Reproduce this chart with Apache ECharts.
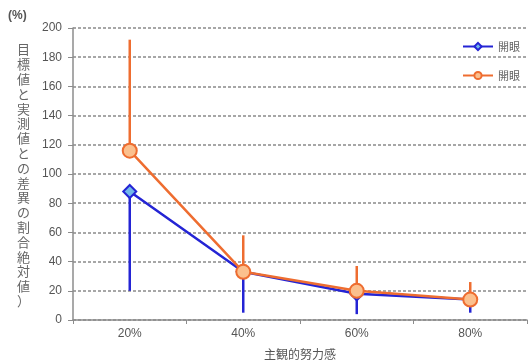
<!DOCTYPE html>
<html><head><meta charset="utf-8">
<script src="https://cdn.jsdelivr.net/npm/echarts@6/dist/echarts.min.js"></script>
<style>html,body{margin:0;padding:0;background:#fff}#c{width:528px;height:360px}</style>
</head><body><div id="c"></div>
<script>
var categories = ['20%', '40%', '60%', '80%'];
var blueValues = [88, 33, 18, 14];
var blueLower = [20, 5, 4, 5];
var orangeValues = [116, 33, 20, 14];
var orangeUpper = [192, 58, 37, 26];
var yTicks = [0, 20, 40, 60, 80, 100, 120, 140, 160, 180, 200];
var legendLabel = '開眼';
var yName = '目標値と実測値との差異の割合絶対値）';
var xName = '主観的努力感';

var BLUE = '#2424d4', BLUE_FILL = '#72b8ea';
var ORANGE = '#ee6d30', ORANGE_FILL = '#fbc08e';

function errBar(vals, bounds, color) {
  return {
    type: 'custom', silent: true, z: 1,
    data: vals.map(function (v, i) { return [i, v, bounds[i]]; }),
    renderItem: function (params, api) {
      var a = api.coord([api.value(0), api.value(1)]);
      var b = api.coord([api.value(0), api.value(2)]);
      return { type: 'line', shape: { x1: a[0], y1: a[1], x2: b[0], y2: b[1] },
        style: { stroke: color, lineWidth: 2.5 } };
    }
  };
}

var chart = echarts.init(document.getElementById('c'));
chart.setOption({
  animation: false,
  grid: { left: 73, right: 1, top: 28, bottom: 40, containLabel: false, outerBoundsMode: 'none' },
  legend: {
    orient: 'vertical', left: 457, top: 36, itemWidth: 30, itemHeight: 9, itemGap: 18,
    data: ['開眼1', '開眼2'],
    formatter: function () { return legendLabel; },
    textStyle: { color: '#666', fontSize: 11, fontFamily: 'Noto Sans CJK JP' }
  },
  xAxis: {
    type: 'category', data: categories, boundaryGap: true,
    axisLine: { lineStyle: { color: '#8c8c8c', width: 1.5 } },
    axisTick: { show: true, alignWithLabel: false, length: 4, lineStyle: { color: '#8c8c8c' } },
    axisLabel: { color: '#555', fontSize: 12, margin: 8, fontFamily: 'Liberation Sans' },
    name: xName, nameLocation: 'middle', nameGap: 28,
    nameTextStyle: { color: '#555', fontSize: 12, fontFamily: 'Noto Sans CJK JP' }
  },
  yAxis: {
    type: 'value', min: 0, max: 200, interval: 20,
    axisLine: { show: true, lineStyle: { color: '#8c8c8c', width: 1.5 } },
    axisTick: { show: true, length: 5, lineStyle: { color: '#8c8c8c' } },
    axisLabel: { color: '#555', fontSize: 12, margin: 11, fontFamily: 'Liberation Sans',
      formatter: function (v) { return yTicks.indexOf(v) >= 0 ? String(v) : ''; } },
    splitLine: { show: true, lineStyle: { color: '#8a8a8a', type: [3, 2], width: 1.5 } }
  },
  graphic: [
    { type: 'text', left: 8, top: 10, style: { text: '(%)', fill: '#555', font: 'bold 12px "Liberation Sans"' } },
    { type: 'text', left: 17, top: 42, style: { text: yName.split('').join('\n'), fill: '#666',
      font: '13px "Noto Sans CJK JP"', lineHeight: 14.8, align: 'left' } }
  ],
  series: [
    errBar(blueValues, blueLower, BLUE),
    errBar(orangeValues, orangeUpper, ORANGE),
    { name: '開眼1', type: 'line', data: blueValues, z: 3,
      lineStyle: { color: BLUE, width: 2.5 }, symbol: 'diamond', symbolSize: 13,
      itemStyle: { color: BLUE_FILL, borderColor: BLUE, borderWidth: 2 } },
    { name: '開眼2', type: 'line', data: orangeValues, z: 4,
      lineStyle: { color: ORANGE, width: 2.5 }, symbol: 'circle', symbolSize: 14,
      itemStyle: { color: ORANGE_FILL, borderColor: ORANGE, borderWidth: 2 } }
  ]
});
</script></body></html>
